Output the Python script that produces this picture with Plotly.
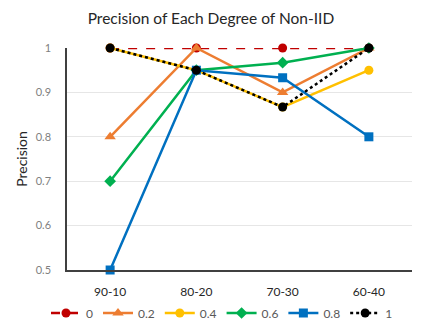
import plotly.graph_objects as go

categories = ["90-10", "80-20", "70-30", "60-40"]
series_names = ["0", "0.2", "0.4", "0.6", "0.8", "1"]
s0 = [1.0, 1.0, 1.0, 1.0]
s02 = [0.8, 1.0, 0.9, 1.0]
s04 = [1.0, 0.95, 0.867, 0.95]
s06 = [0.7, 0.95, 0.967, 1.0]
s08 = [0.5, 0.95, 0.933, 0.8]
s1 = [1.0, 0.95, 0.867, 1.0]
y_ticks = [0.5, 0.6, 0.7, 0.8, 0.9, 1]
y_tick_text = ["0.5", "0.6", "0.7", "0.8", "0.9", "1"]

styles = [
    (s0, "#C00000", "dash", "circle", 9),
    (s02, "#ED7D31", "solid", "triangle-up", 10),
    (s04, "#FFC000", "solid", "circle", 9),
    (s06, "#00B050", "solid", "diamond", 9),
    (s08, "#0070C0", "solid", "square", 9),
    (s1, "#000000", "dot", "circle", 9),
]

fig = go.Figure()
for name, (vals, color, dash, sym, size) in zip(series_names, styles):
    fig.add_trace(go.Scatter(
        x=categories, y=vals, name=name, mode="lines+markers",
        line=dict(color=color, width=2.5, dash=dash),
        marker=dict(color=color, symbol=sym, size=size),
    ))

# page body has an 8px default margin, so the figure is 8px smaller and starts at (8, 8)
W, H = 415, 322
ML, MR, MT, MB = 59, 11, 40, 60
PW, PH = W - ML - MR, H - MT - MB
font_family = "Lato, 'Open Sans', sans-serif"
fig.update_layout(
    width=W, height=H,
    margin=dict(l=ML, r=MR, t=MT, b=MB, autoexpand=False),
    paper_bgcolor="white", plot_bgcolor="white",
    font=dict(family=font_family, color="#595959", size=11),
    title=dict(text="Precision of Each Degree of Non-IID", x=0.489, xanchor="center",
               yref="container", y=1 - 11 / H, yanchor="middle",
               font=dict(size=15.5, color="#262626")),
    legend=dict(orientation="h", x=(38 - ML) / PW, xanchor="left",
                y=(PH + MT - 305) / PH, yanchor="middle",
                font=dict(size=12, color="#595959"),
                tracegroupgap=0, bgcolor="rgba(0,0,0,0)"),
    showlegend=True,
)
fig.update_xaxes(type="category", range=[-0.5, 3.5], showline=True, linecolor="#404040",
                 linewidth=1.5, ticks="", tickfont=dict(size=12, color="#262626"),
                 showgrid=False, zeroline=False, ticklabelstandoff=10, automargin=False)
fig.update_yaxes(range=[0.5, 1.0], tickvals=y_ticks, ticktext=y_tick_text, showline=True,
                 linecolor="#404040", linewidth=1.5, showgrid=True, gridcolor="#E6E6E6",
                 gridwidth=1, zeroline=False, tickfont=dict(size=11, color="#7F7F7F"),
                 title=dict(text="Precision", font=dict(size=14, color="#262626"), standoff=5),
                 ticks="", ticklabelstandoff=12, automargin=False)
fig.update_traces(cliponaxis=False)
fig.write_html("out.html")
